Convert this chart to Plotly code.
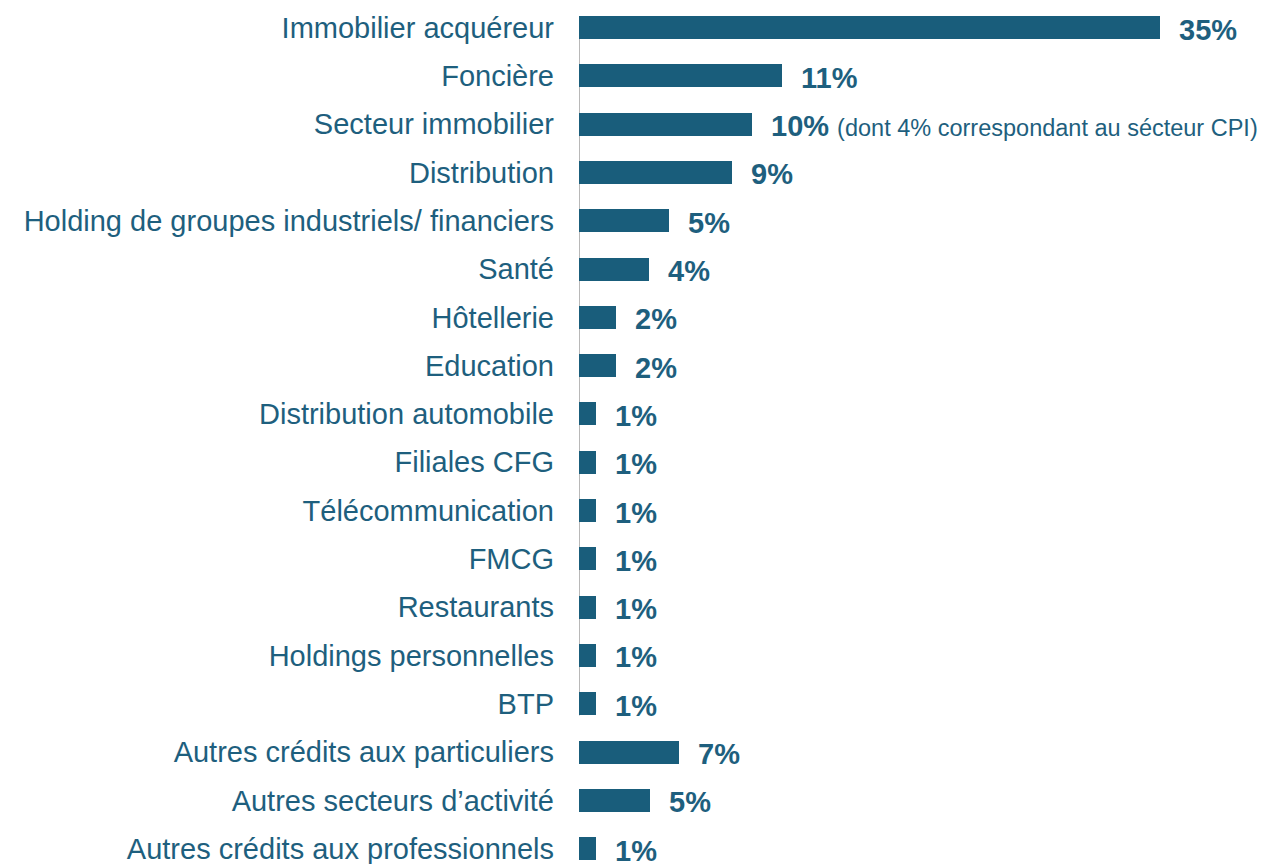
import plotly.graph_objects as go

# Categories (top to bottom)
categories = [
    "Immobilier acquéreur",
    "Foncière",
    "Secteur immobilier",
    "Distribution",
    "Holding de groupes industriels/ financiers",
    "Santé",
    "Hôtellerie",
    "Education",
    "Distribution automobile",
    "Filiales CFG",
    "Télécommunication",
    "FMCG",
    "Restaurants",
    "Holdings personnelles",
    "BTP",
    "Autres crédits aux particuliers",
    "Autres secteurs d’activité",
    "Autres crédits aux professionnels",
]

# Bar lengths (the printed labels are rounded)
bar_values = [35.0, 12.2, 10.4, 9.2, 5.4, 4.2, 2.2, 2.2, 1.0, 1.0, 1.0, 1.0, 1.0, 1.0, 1.0, 6.0, 4.3, 1.0]

# Printed value labels
value_labels = ["35%", "11%", "10%", "9%", "5%", "4%", "2%", "2%", "1%", "1%", "1%", "1%", "1%", "1%", "1%", "7%", "5%", "1%"]

# Extra notes shown after some labels
notes = {"Secteur immobilier": "(dont 4% correspondant au sécteur CPI)"}

BAR_COLOR = "#195d7b"
TEXT_COLOR = "#1e5f7e"
FONT = "Liberation Sans, Arial, Helvetica, sans-serif"

fig = go.Figure()
fig.add_trace(go.Bar(
    x=bar_values,
    y=categories,
    orientation="h",
    marker=dict(color=BAR_COLOR, line=dict(width=0)),
    width=0.476,
    hoverinfo="skip",
))

for cat, val, lab in zip(categories, bar_values, value_labels):
    txt = f"<b>{lab}</b>"
    if cat in notes:
        txt += f" <span style='font-size:23.5px;font-weight:normal'>{notes[cat]}</span>"
    fig.add_annotation(
        x=val, y=cat, text=txt, showarrow=False,
        xanchor="left", yanchor="middle", xshift=17, yshift=-2,
        font=dict(family=FONT, size=29, color=TEXT_COLOR),
    )

# Vertical axis line (stops after the "BTP" row)
fig.add_shape(
    type="line", xref="x", yref="y",
    x0=0, x1=0, y0=-0.24, y1=14.24,
    line=dict(color="#b8b8b8", width=2),
    layer="below",
)

fig.update_layout(
    width=1268, height=864,
    margin=dict(l=579, r=0, t=3, b=0),
    paper_bgcolor="white", plot_bgcolor="white",
    showlegend=False,
    bargap=0,
    font=dict(family=FONT, color=TEXT_COLOR),
)
fig.update_xaxes(range=[0, 41.5], visible=False, fixedrange=True)
fig.update_yaxes(
    type="category",
    categoryorder="array", categoryarray=categories,
    range=[17.317, -0.509],
    showgrid=False, zeroline=False, showline=False,
    ticks="", ticklabelstandoff=24,
    tickfont=dict(family=FONT, size=29, color=TEXT_COLOR),
    fixedrange=True,
)

fig.write_html(
    "out.html",
    config={"displayModeBar": False},
    post_script="document.body.style.margin='0';document.body.style.padding='0';document.body.style.overflow='hidden';",
)
